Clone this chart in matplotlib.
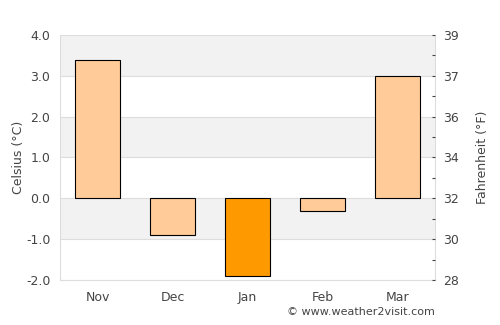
import matplotlib
matplotlib.use("Agg")
import matplotlib.pyplot as plt
import numpy as np

# data
months = ["Nov", "Dec", "Jan", "Feb", "Mar"]
celsius = [3.4, -0.9, -1.9, -0.3, 3.0]
bar_colors = ["#FFCC99", "#FFCC99", "#FF9900", "#FFCC99", "#FFCC99"]
c_ticks = [-2.0, -1.0, 0.0, 1.0, 2.0, 3.0, 4.0]
f_labels = ["28", "30", "32", "34", "36", "37", "39"]

text_col = "#444444"
grid_col = "#dddddd"

fig = plt.figure(figsize=(5, 3.25), dpi=100)
ax = fig.add_axes([0.12, 0.1385, 0.75, 0.7538])

# alternating bands
for lo in [-1.0, 1.0, 3.0]:
    ax.axhspan(lo, lo + 1, color="#f2f2f2", zorder=0, lw=0)
for t in c_ticks:
    ax.axhline(t, color=grid_col, lw=0.8, zorder=0.5)

x = np.arange(len(months))
ax.bar(x, celsius, width=0.6, color=bar_colors, edgecolor="black", linewidth=0.8, zorder=2)

ax.set_xlim(-0.5, len(months) - 0.5)
ax.set_ylim(-2, 4)
ax.set_yticks(c_ticks)
ax.set_yticklabels(["%.1f" % t for t in c_ticks])
ax.set_xticks(x)
ax.set_xticklabels(months)
ax.tick_params(axis="both", length=0, colors=text_col, labelsize=9, pad=7)
ax.tick_params(axis="x", pad=8)
ax.set_ylabel("Celsius (°C)", color=text_col, fontsize=9, labelpad=1)
for s in ax.spines.values():
    s.set_color(grid_col)
    s.set_linewidth(0.8)
ax.spines["top"].set_visible(False)

ax2 = ax.twinx()
ax2.set_ylim(-2, 4)
ax2.set_yticks(c_ticks)
ax2.set_yticklabels(f_labels)
ax2.set_yticks(np.arange(-1.5, 4, 1.0), minor=True)
ax2.tick_params(axis="y", which="major", direction="in", length=2.5, width=0.8,
                color=text_col, colors=text_col, labelsize=9, pad=6)
ax2.tick_params(axis="y", which="minor", direction="in", length=2.5, width=0.8, color=text_col)
ax2.set_ylabel("Fahrenheit (°F)", color=text_col, fontsize=9, labelpad=12)
for s in ax2.spines.values():
    s.set_visible(False)

fig.text(0.87, 0.025, "© www.weather2visit.com", ha="right", va="bottom", fontsize=8, color=text_col)

fig.savefig("out.png", dpi=100)
